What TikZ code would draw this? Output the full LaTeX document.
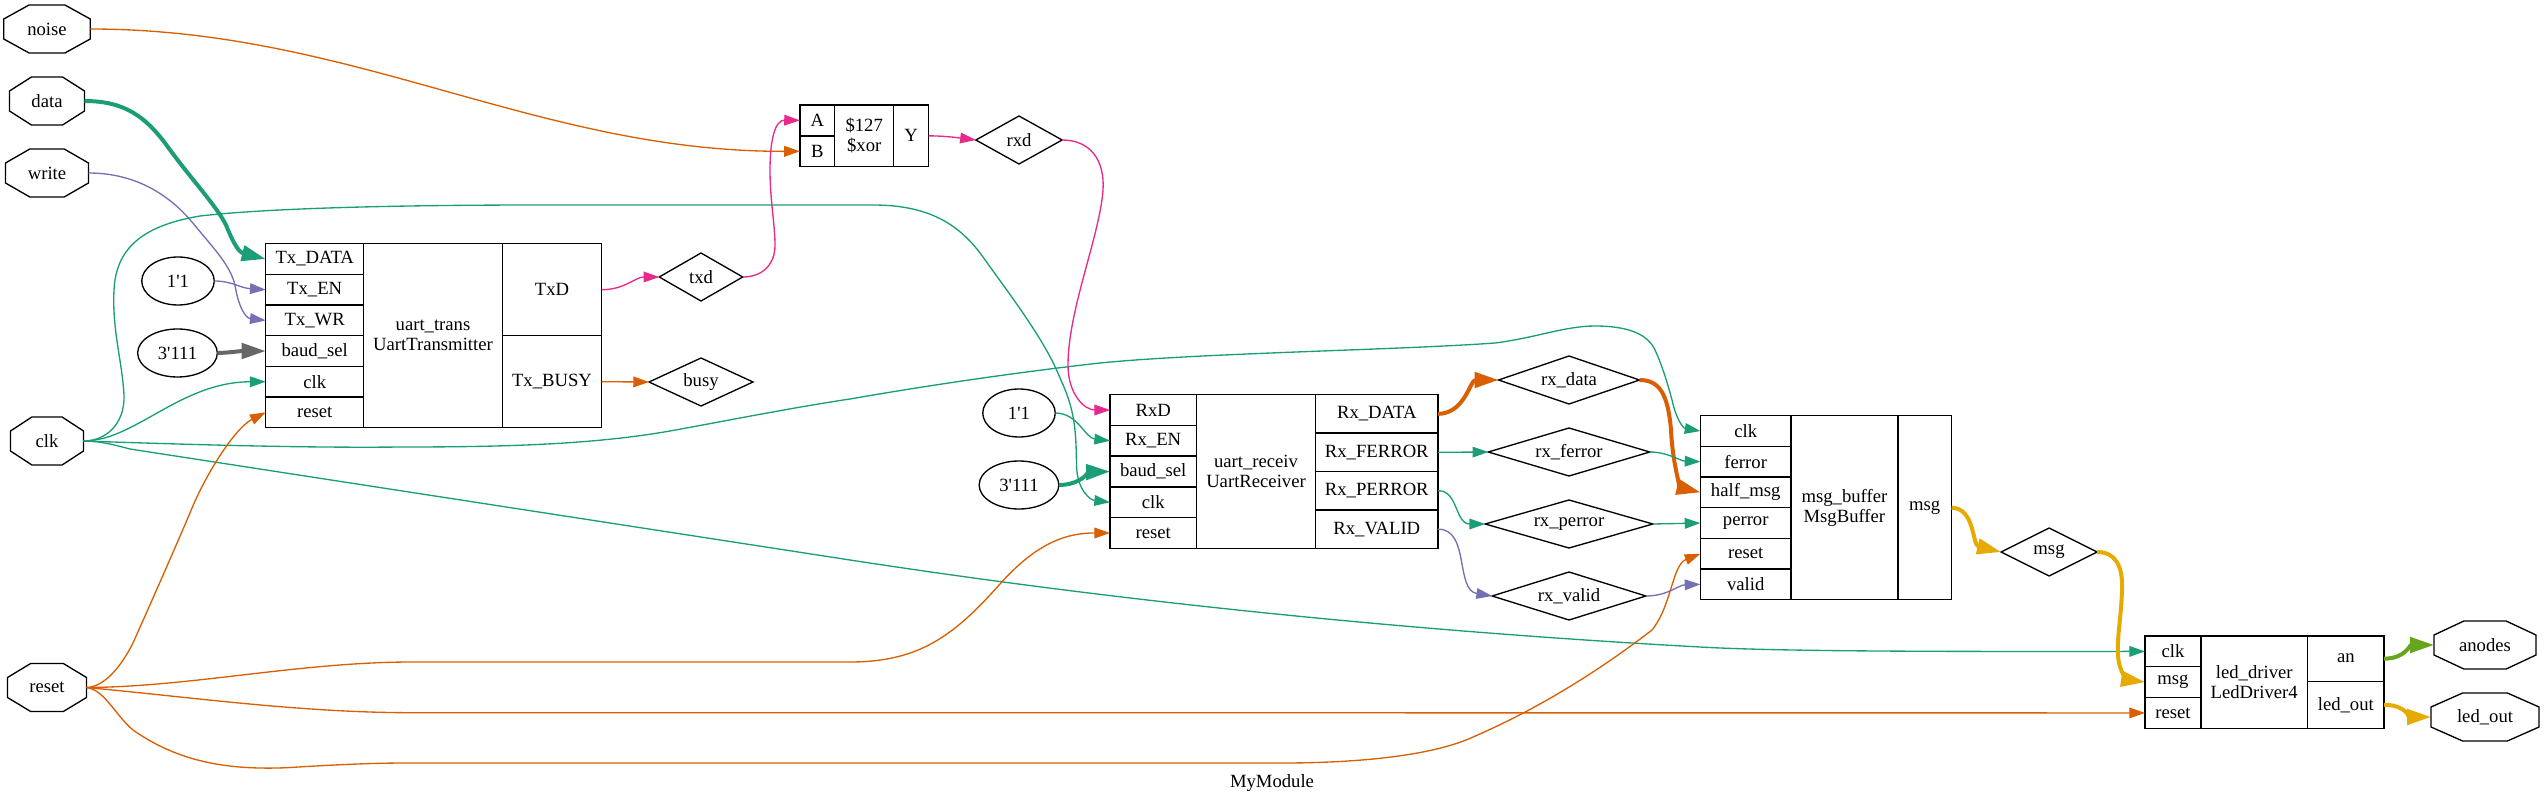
\documentclass[tikz,border=0pt]{standalone}
\usepackage{fontspec}
\usetikzlibrary{arrows.meta,shapes.geometric}
\newfontfamily\netfont{Liberation Serif}
\definecolor{wTeal}{HTML}{1B9E77}
\definecolor{wOrange}{HTML}{D95F02}
\definecolor{wPurple}{HTML}{7570B3}
\definecolor{wPink}{HTML}{E7298A}
\definecolor{wLime}{HTML}{66A61E}
\definecolor{wYellow}{HTML}{E6AB02}
\definecolor{wGray}{HTML}{666666}
\tikzset{
  every node/.style={font=\netfont\fontsize{14}{15}\selectfont,align=center,inner sep=0pt,outer sep=0pt},
  cell/.style 2 args={draw,line width=1pt,minimum width=0.75pt*#1,minimum height=0.75pt*#2},
  wirename/.style={diamond,aspect=3,draw,line width=1pt,minimum width=0.75pt*#1,minimum height=36pt},
  konst/.style={ellipse,draw,line width=1pt,minimum width=0.75pt*#1,minimum height=36pt},
  octbox/.style={minimum height=36pt},
  wire/.style={line width=1pt,-{Triangle[length=11.8pt,width=8pt]}},
  bus/.style={line width=3pt,-{Triangle[length=18pt,width=11.5pt]}}
}
\newcommand{\octpin}[5]{
  \node[octbox,minimum width=0.75pt*#4] (#1) at (#2,#3) {#5};
  \draw[line width=1pt,shift={(#1.center)}] ({-0.207*#4},24) -- ({0.207*#4},24) -- ({0.5*#4},10) -- ({0.5*#4},-10)
    -- ({0.207*#4},-24) -- ({-0.207*#4},-24) -- ({-0.5*#4},-10) -- ({-0.5*#4},10) -- cycle;
}
\begin{document}
\begin{tikzpicture}[x=0.75pt,y=-0.75pt]
  \useasboundingbox (0,0) rectangle (2544,805);

  \octpin{noise}{47}{29}{86.5}{noise}
  \octpin{data}{47}{101}{75}{data}
  \octpin{write}{47}{173}{83}{write}
  \octpin{clk}{47}{441}{73}{clk}
  \octpin{reset}{47}{687.5}{79}{reset}
  \octpin{anodes}{2485}{645}{102}{anodes}
  \octpin{ledOut}{2485}{717}{108}{led\_out}

  \node[konst=72.5] (txOne) at (178,281) {1'1};
  \node[konst=79.7] (txBaud) at (177.5,353) {3'111};
  \node[konst=72.5] (rxOne) at (1019,413) {1'1};
  \node[konst=79.7] (rxBaud) at (1019,485) {3'111};

  \node[wirename=83.5] (txd) at (701,277) {txd};
  \node[wirename=104] (busy) at (701,382) {busy};
  \node[wirename=86.3] (rxd) at (1019,140) {rxd};
  \node[wirename=141] (rxData) at (1569,380) {rx\_data};
  \node[wirename=161.5] (rxFerror) at (1569,452) {rx\_ferror};
  \node[wirename=167.7] (rxPerror) at (1569,524) {rx\_perror};
  \node[wirename=153.7] (rxValid) at (1569,596) {rx\_valid};
  \node[wirename=96] (msg) at (2049,552) {msg};

  \foreach \name/\txt [count=\i] in {txData/Tx\_DATA,txEn/Tx\_EN,txWr/Tx\_WR,txSel/baud\_sel,txClk/clk,txReset/reset}
    \node[cell={98}{30.67}] (\name) at (314.7,{243.7+30.67*(\i-0.5)}) {\txt};
  \node[cell={138.7}{184}] (uartTrans) at (433,335.7) {uart\_trans\\UartTransmitter};
  \node[cell={99.2}{92}] (txdOut) at (552,289.7) {TxD};
  \node[cell={99.2}{92}] (busyOut) at (552,381.7) {Tx\_BUSY};

  \node[cell={34.7}{30.85}] (xorA) at (817.3,120.4) {A};
  \node[cell={34.7}{30.85}] (xorB) at (817.3,151.3) {B};
  \node[cell={59}{61.7}] (xorCell) at (864.2,135.85) {\$127\\\$xor};
  \node[cell={35}{61.7}] (xorY) at (911.2,135.85) {Y};

  \foreach \name/\txt [count=\i] in {rxD/RxD,rxEn/Rx\_EN,rxSel/baud\_sel,rxClk/clk,rxReset/reset}
    \node[cell={86.3}{30.73}] (\name) at (1153.2,{394.7+30.73*(\i-0.5)}) {\txt};
  \node[cell={119.3}{153.65}] (uartRecv) at (1256,471.5) {uart\_receiv\\UartReceiver};
  \foreach \name/\txt [count=\i] in {dataOut/Rx\_DATA,ferrOut/Rx\_FERROR,perrOut/Rx\_PERROR,validOut/Rx\_VALID}
    \node[cell={122.4}{38.41}] (\name) at (1376.8,{394.7+38.41*(\i-0.5)}) {\txt};

  \foreach \name/\txt [count=\i] in {bufClk/clk,bufFerr/ferror,bufHalf/half\_msg,bufPerr/perror,bufReset/reset,bufValid/valid}
    \node[cell={90.5}{30.67}] (\name) at (1745.7,{415.7+30.67*(\i-0.5)}) {\txt};
  \node[cell={106.8}{184}] (msgBuffer) at (1844.4,507.7) {msg\_buffer\\MsgBuffer};
  \node[cell={53.7}{184}] (msgOut) at (1924.7,507.7) {msg};

  \foreach \name/\txt [count=\i] in {ledClk/clk,ledMsg/msg,ledReset/reset}
    \node[cell={55.8}{30.77}] (\name) at (2172.9,{636+30.77*(\i-0.5)}) {\txt};
  \node[cell={106.7}{92.3}] (ledDriver) at (2254.2,682.15) {led\_driver\\LedDriver4};
  \node[cell={76.5}{45.3}] (anOut) at (2345.8,658.65) {an};
  \node[cell={76.5}{47}] (ledOutPort) at (2345.8,704.8) {led\_out};

  \node (title) at (1272,783) {MyModule};

  \draw[wire,wOrange] (noise.east) .. controls (353,29) and (537,152) .. (xorB.west);
  \draw[bus,wTeal] (data.east) .. controls (125,101) and (145,117) .. (165,143) .. controls (190,178) and (216,205) .. (226,225) .. controls (232,240) and (238,252) .. (txData.west);
  \draw[wire,wPurple] (write.east) .. controls (130,173) and (165,190) .. (192,222) .. controls (215,250) and (230,265) .. (235,285) .. controls (238,305) and (245,318) .. (txWr.west);
  \draw[wire,wPurple] (txOne.east) .. controls (232,281) and (240,288) .. (txEn.west);
  \draw[bus,wGray] (txBaud.east) .. controls (230,352.7) and (240,351) .. (txSel.west);
  \draw[wire,wTeal] (clk.east) .. controls (135,441) and (180,382) .. (txClk.west);
  \draw[wire,wTeal] (clk.east) .. controls (105,441) and (125,425) .. (124,395) .. controls (122,360) and (112,330) .. (114,290) .. controls (116,250) and (140,226) .. (200,216) .. controls (270,208) and (400,205) .. (540,205) .. controls (650,205) and (780,205) .. (873,205) .. controls (930,205) and (960,225) .. (983,257) .. controls (1010,295) and (1045,340) .. (1060,378) .. controls (1075,410) and (1076,430) .. (1076.5,465) .. controls (1077,490) and (1090,500) .. (rxClk.west);
  \draw[wire,wTeal] (clk.east) .. controls (200,445) and (310,448) .. (401,447) .. controls (500,447) and (590,445) .. (670,431) .. controls (720,422) and (790,408) .. (850,399) .. controls (930,385) and (1020,372) .. (1100,363) .. controls (1200,353) and (1400,350) .. (1495,343) .. controls (1535,338) and (1565,326) .. (1595,326) .. controls (1630,326) and (1648,335) .. (1655,350) .. controls (1662,365) and (1668,385) .. (1672,400) .. controls (1675,415) and (1682,428) .. (bufClk.west);
  \draw[wire,wTeal] (clk.east) .. controls (100,441) and (115,445) .. (130,449) .. controls (370,486) and (610,523) .. (850,560) .. controls (1000,583) and (1300,625) .. (1700,647) .. controls (1770,651) and (1900,651.7) .. (ledClk.west);
  \draw[wire,wOrange] (reset.east) .. controls (105,687) and (122,665) .. (133,643) .. controls (150,605) and (172,555) .. (190,513) .. controls (205,475) and (235,428) .. (txReset.west);
  \draw[wire,wOrange] (reset.east) .. controls (190,687) and (300,662) .. (412,662) -- (850,662) .. controls (920,662) and (955,635) .. (1002,581.7) .. controls (1040,540) and (1070,533) .. (rxReset.west);
  \draw[wire,wOrange] (reset.east) .. controls (190,697) and (300,712.7) .. (412,712.7) -- (ledReset.west);
  \draw[wire,wOrange] (reset.east) .. controls (105,690) and (115,715) .. (133,730) .. controls (180,763) and (230,770) .. (287,767.7) .. controls (330,765) and (370,763) .. (406,763) -- (1283,763) .. controls (1350,763) and (1430,757) .. (1473,737) .. controls (1540,708) and (1600,670) .. (1652,630) .. controls (1672,605) and (1672,565) .. (bufReset.west);
  \draw[wire,wPink] (txdOut.east) .. controls (625,289.7) and (635,277) .. (txd.west);
  \draw[wire,wOrange] (busyOut.east) -- (busy.west);
  \draw[wire,wPink] (txd.east) .. controls (762,277) and (775,265) .. (775,245) .. controls (775,225) and (770,200) .. (770,170) .. controls (770,140) and (775,120) .. (xorA.west);
  \draw[wire,wPink] (xorY.east) .. controls (945,135.85) and (960,138) .. (rxd.west);
  \draw[wire,wPink] (rxd.east) .. controls (1090,140) and (1105,160) .. (1103,190) .. controls (1100,235) and (1068,310) .. (1068,365) .. controls (1068,395) and (1085,410) .. (rxD.west);
  \draw[wire,wTeal] (rxOne.east) .. controls (1078,413) and (1085,438) .. (rxEn.west);
  \draw[bus,wTeal] (rxBaud.east) .. controls (1080,485) and (1090,472) .. (rxSel.west);
  \draw[bus,wOrange] (dataOut.east) .. controls (1465,413.5) and (1470,380) .. (rxData.west);
  \draw[wire,wTeal] (ferrOut.east) -- (rxFerror.west);
  \draw[wire,wTeal] (perrOut.east) .. controls (1458,490) and (1455,524) .. (rxPerror.west);
  \draw[wire,wPurple] (validOut.east) .. controls (1470,529) and (1455,590) .. (rxValid.west);
  \draw[bus,wOrange] (rxData.east) .. controls (1660,380) and (1668,395) .. (1671,430) .. controls (1673,470) and (1682,488) .. (bufHalf.west);
  \draw[wire,wTeal] (rxFerror.east) .. controls (1668,452) and (1680,461) .. (bufFerr.west);
  \draw[wire,wTeal] (rxPerror.east) -- (bufPerr.west);
  \draw[wire,wPurple] (rxValid.east) .. controls (1668,596) and (1678,585) .. (bufValid.west);
  \draw[bus,wYellow] (msgOut.east) .. controls (1975,508) and (1972,545) .. (msg.west);
  \draw[bus,wYellow] (msg.east) .. controls (2115,552) and (2123,565) .. (2122,590) .. controls (2121,620) and (2117,635) .. (2118,655) .. controls (2119,675) and (2130,680) .. (ledMsg.west);
  \draw[bus,wLime] (anOut.east) .. controls (2405,658.65) and (2410,645) .. (anodes.west);
  \draw[bus,wYellow] (ledOutPort.east) .. controls (2405,704.8) and (2410,717) .. (ledOut.west);
\end{tikzpicture}
\end{document}
